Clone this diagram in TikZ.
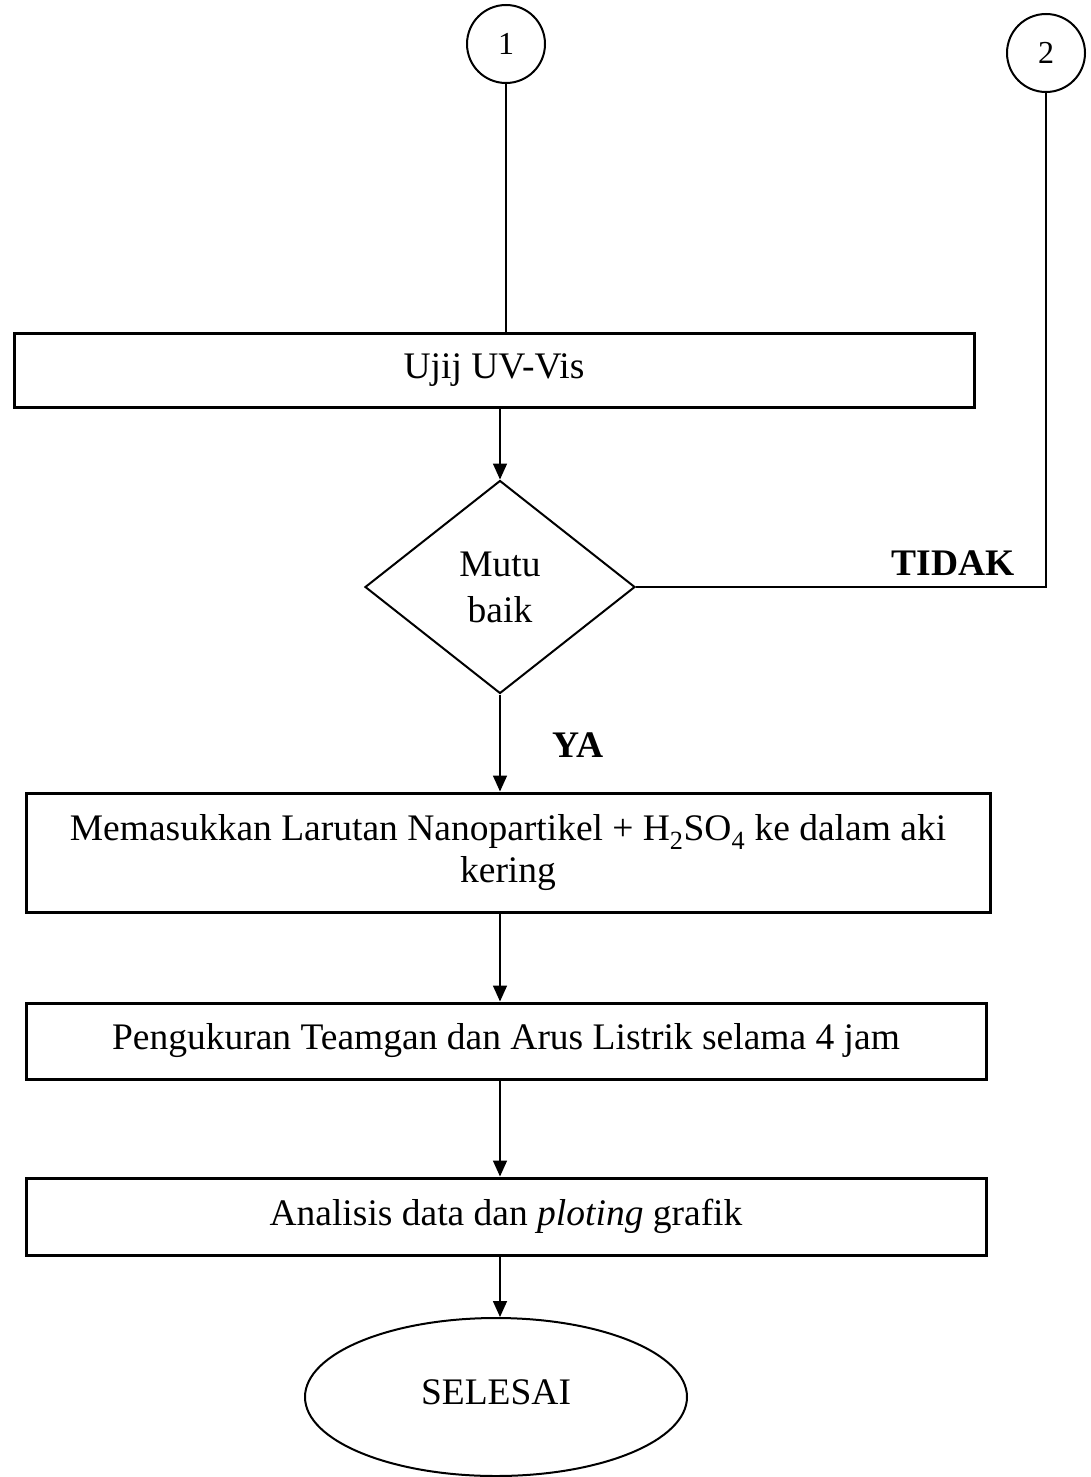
\documentclass[tikz,border=0pt]{standalone}
\usepackage{fontspec}
\setmainfont{Liberation Serif}
\usetikzlibrary{shapes.geometric,arrows.meta}
\begin{document}
\begin{tikzpicture}[x=1pt,y=-1pt,
  font=\fontsize{37.5}{42}\selectfont,
  boxnode/.style={draw, line width=3pt, rectangle, inner sep=0pt, align=center},
  conn/.style={line width=1.6pt},
  arr/.style={conn, -{Triangle[length=16pt,width=14pt]}},
  connector/.style={draw, circle, line width=2pt, minimum size=78pt, inner sep=0pt, font=\fontsize{32}{36}\selectfont},
  label/.style={font=\fontsize{37.5}{42}\selectfont\bfseries}
]
\useasboundingbox (0,0) rectangle (1091,1477);

\node[connector] (c1) at (506,44) {1};
\node[connector] (c2) at (1046,53) {2};

\node[boxnode, minimum width=960pt, minimum height=74pt] (b1) at (494,370) {Ujij UV-Vis};

\node[draw, diamond, line width=2pt, minimum width=270pt, minimum height=213pt,
      inner sep=0pt, aspect=1.27, align=center, font=\fontsize{37.5}{46}\selectfont] (d) at (500,587) {Mutu\\baik};

\node[boxnode, minimum width=964pt, minimum height=119pt] (b2) at (508,852.5)
  {Memasukkan Larutan Nanopartikel + H\textsubscript{2}SO\textsubscript{4} ke dalam aki\\kering};
\node[boxnode, minimum width=960pt, minimum height=76pt] (b3) at (506,1041)
  {Pengukuran Teamgan dan Arus Listrik selama 4 jam};
\node[boxnode, minimum width=960pt, minimum height=77pt] (b4) at (506,1216.5)
  {Analisis data dan \textit{ploting} grafik};

\node[draw, ellipse, line width=2pt, minimum width=382pt, minimum height=158pt, inner sep=0pt] (e) at (496,1397) {\raisebox{9pt}{SELESAI}};

\node[label] (tidak) at (953,563) {TIDAK};
\node[label] (ya) at (578,745) {YA};

\draw[conn] (c1.south) -- (c1.south |- b1.north);
\draw[conn] (c2.south) |- (d.east);
\draw[arr] (b1.south -| d.north) -- (d.north);
\draw[arr] (d.south) -- (d.south |- b2.north);
\draw[arr] (b2.south -| d.south) -- (d.south |- b3.north);
\draw[arr] (b3.south -| d.south) -- (d.south |- b4.north);
\draw[arr] (b4.south -| d.south) -- (d.south |- e.north);
\end{tikzpicture}
\end{document}
